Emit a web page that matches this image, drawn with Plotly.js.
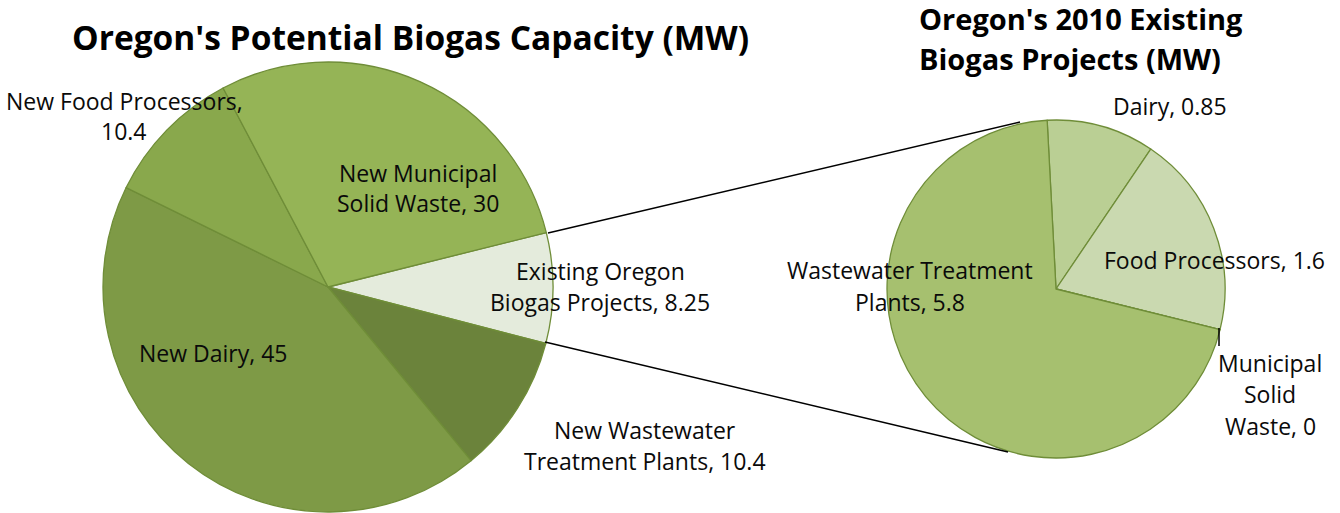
<!DOCTYPE html>
<html>
<head>
<meta charset="utf-8">
<script src="https://cdn.plot.ly/plotly-3.0.1.min.js"></script>
<style>
  html, body { margin: 0; padding: 0; background: #fff; }
  #chart { width: 1340px; height: 513px; }
</style>
</head>
<body>
<div id="chart"></div>
<script>
// Potential capacity (MW), clockwise from the exploded "existing" slice
const potentialLabels = ['Existing Oregon Biogas Projects', 'New Wastewater Treatment Plants', 'New Dairy', 'New Food Processors', 'New Municipal Solid Waste'];
const potentialValues = [8.25, 10.4, 45, 10.4, 30];
const potentialColors = ['#e4ebdc', '#6b833b', '#7e9a46', '#89a84c', '#95b456'];

// Existing 2010 projects (MW), clockwise from 12 o'clock
const existingLabels = ['Dairy', 'Food Processors', 'Municipal Solid Waste', 'Wastewater Treatment Plants'];
const existingValues = [0.85, 1.6, 0, 5.8];
const existingColors = ['#bacf94', '#cad9b0', '#a6c06f', '#a6c06f'];

// how each label wraps on the picture
const potentialBreaks = ['Existing Oregon<br>Biogas Projects', 'New Wastewater<br>Treatment Plants', 'New Dairy', 'New Food Processors,<br>', 'New Municipal<br>Solid Waste'];
const existingBreaks = ['Dairy', 'Food Processors', 'Municipal<br>Solid<br>Waste', 'Wastewater Treatment<br>Plants'];

const W = 1340, H = 513;
const FONT = 'Open Sans, sans-serif';

// pixel -> paper
function px(x) { return x / W; }
function py(y) { return 1 - y / H; }

// label spots in pixels (centre of the whole block)
const potentialSpots = [[600, 286], [645, 445], [213, 353], [124, 116], [418, 188]];
const existingSpots = [[1170, 106], [1214, 260], [1270, 394], [910, 286]];

function labelText(name, v) {
  if (name.endsWith('<br>')) return name + v;
  return name + ', ' + v;
}

const annotations = [];

// one annotation per line so the line gap matches the picture
function addBlock(text, cx, cy, gap, font, anchor) {
  const lines = text.split('<br>');
  const top = cy - gap * (lines.length - 1) / 2;
  lines.forEach((ln, k) => {
    annotations.push({
      xref: 'paper', yref: 'paper', x: px(cx), y: py(top + k * gap),
      xanchor: anchor || 'center', yanchor: 'middle', showarrow: false,
      text: ln, font: font
    });
  });
}

const labelFont = { family: FONT, size: 23, color: '#0a0a0a' };
potentialBreaks.forEach((n, i) => {
  addBlock(labelText(n, potentialValues[i]), potentialSpots[i][0], potentialSpots[i][1], 31, labelFont);
});
existingBreaks.forEach((n, i) => {
  addBlock(labelText(n, existingValues[i]), existingSpots[i][0], existingSpots[i][1], 31.5, labelFont);
});

// titles
addBlock("<b>Oregon's Potential Biogas Capacity (MW)</b>", 410, 37, 0,
  { family: FONT, size: 33.5, color: '#000' });
addBlock("<b>Oregon's 2010 Existing</b><br><b>Biogas Projects (MW)</b>", 917, 38, 40,
  { family: FONT, size: 29, color: '#000' }, 'left');

const lineStyle = { color: '#000', width: 1.5 };
const shapes = [
  { type: 'line', xref: 'paper', yref: 'paper', x0: px(548), y0: py(233), x1: px(1020), y1: py(122), line: lineStyle },
  { type: 'line', xref: 'paper', yref: 'paper', x0: px(545), y0: py(342), x1: px(1008), y1: py(452), line: lineStyle },
  { type: 'line', xref: 'paper', yref: 'paper', x0: px(1219), y0: py(328), x1: px(1219), y1: py(346), line: lineStyle }
];

const outline = { color: '#6f8d38', width: 1.3 };

const data = [
  {
    type: 'pie', labels: potentialLabels, values: potentialValues, sort: false,
    direction: 'clockwise', rotation: 76, textinfo: 'none', hoverinfo: 'label+value',
    marker: { colors: potentialColors, line: outline },
    domain: { x: [px(328 - 225), px(328 + 225)], y: [py(287 + 225), py(287 - 225)] }
  },
  {
    type: 'pie', labels: existingLabels, values: existingValues, sort: false,
    direction: 'clockwise', rotation: -3, textinfo: 'none', hoverinfo: 'label+value',
    marker: { colors: existingColors, line: outline },
    domain: { x: [px(1056 - 169), px(1056 + 169)], y: [py(289 + 169), py(289 - 169)] }
  }
];

const layout = {
  width: W, height: H,
  margin: { l: 0, r: 0, t: 0, b: 0 },
  showlegend: false,
  paper_bgcolor: '#fff',
  font: { family: FONT },
  annotations: annotations,
  shapes: shapes
};

Plotly.newPlot('chart', data, layout, { displayModeBar: false, staticPlot: true });
</script>
</body>
</html>
